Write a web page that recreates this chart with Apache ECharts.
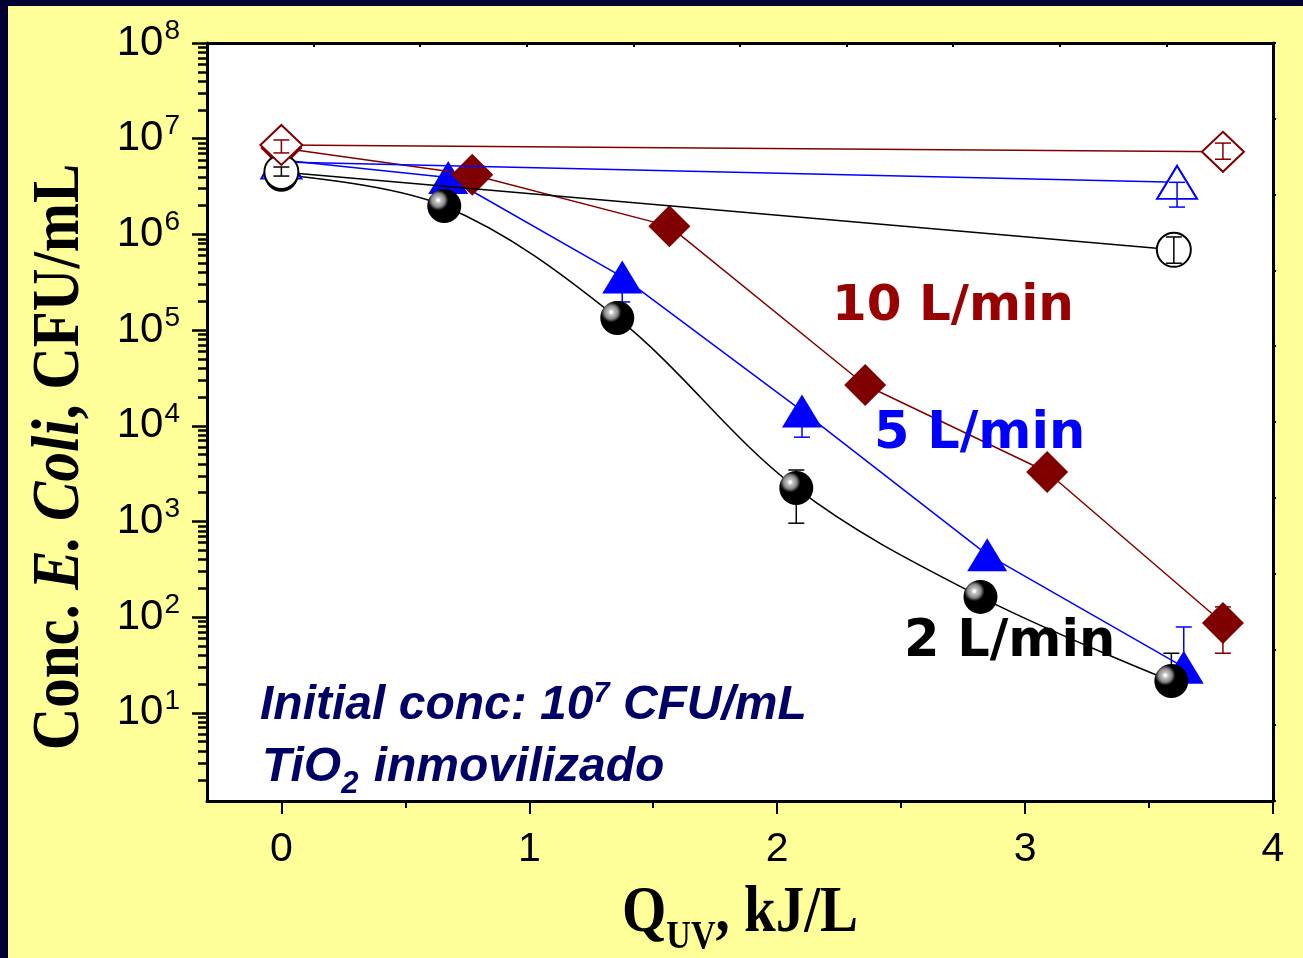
<!DOCTYPE html>
<html lang="en">
<head>
  <meta charset="UTF-8">
  <title>E. Coli inactivation</title>
  <style>
    html, body { margin: 0; padding: 0; }
  </style>
</head>
<body>
  <div id="main" style="width:1303px;height:958px;"></div>
</body>
<script src="https://cdn.jsdelivr.net/npm/echarts@6/dist/echarts.min.js"></script>
<script>
  // Q_UV (kJ/L) and concentration (CFU/mL), UV + TiO2 (filled markers)
  var qFilled2 = [0, 0.657, 1.355, 2.077, 2.82, 3.59];
  var cFilled2 = [4.2e6, 1.98e6, 1.34e5, 2240, 163, 21.5];
  var qFilled5 = [0, 0.673, 1.375, 2.10, 2.847, 3.64];
  var cFilled5 = [6.0e6, 3.93e6, 3.59e5, 1.43e4, 450, 30];
  var qFilled10 = [0, 0.770, 1.565, 2.355, 3.089, 3.798];
  var cFilled10 = [8.0e6, 4.2e6, 1.22e6, 2.67e4, 3290, 87];

  // open markers (no catalyst)
  var qOpen2 = [0, 3.6];
  var cOpen2 = [4.5e6, 6.9e5];
  var qOpen5 = [0, 3.613];
  var cOpen5 = [5.7e6, 3.5e6];
  var qOpen10 = [0, 3.798];
  var cOpen10 = [8.6e6, 7.3e6];

  // error bars: [x, low, high]
  var errFilled2 = [[2.077, 960, 3450], [3.59, 21.5, 42]];
  var errFilled5 = [[1.375, 1.97e5, 3.59e5], [2.10, 7600, 1.43e4], [3.64, 30, 79]];
  var errFilled10 = [[3.798, 42, 128]];
  var errOpen2 = [[0, 4.07e6, 5.06e6], [3.6, 5.0e5, 9.4e5]];
  var errOpen5 = [[3.613, 1.93e6, 3.5e6]];
  var errOpen10 = [[0, 7.1e6, 9.7e6], [3.798, 6.1e6, 9.0e6]];

  // axis ticks
  var xMajor = [0, 1, 2, 3, 4];
  var xMinor = [0.5, 1.5, 2.5, 3.5];
  var yMajor = [10, 100, 1e3, 1e4, 1e5, 1e6, 1e7, 1e8];
  var yMinor = [];
  for (var e = 0; e < 8; e++) {
    for (var k = 2; k < 10; k++) {
      if (k * Math.pow(10, e) > 1.2) yMinor.push(k * Math.pow(10, e));
    }
  }

  var myChart = echarts.init(document.getElementById('main'));

  function pairs(xs, ys) {
    return xs.map(function (x, i) { return [x, ys[i]]; });
  }

  var sphere = {
    type: 'radial', x: 0.32, y: 0.33, r: 0.75,
    colorStops: [
      { offset: 0, color: '#ffffff' },
      { offset: 0.06, color: '#f4f4f4' },
      { offset: 0.1, color: '#c8c8c8' },
      { offset: 0.26, color: '#8a8a8a' },
      { offset: 0.34, color: '#3a3a3a' },
      { offset: 0.4, color: '#000000' },
      { offset: 1, color: '#000000' }
    ]
  };

  function errSeries(data, color, z) {
    return {
      type: 'custom',
      z: z,
      data: data,
      encode: { x: 0, y: [1, 2] },
      renderItem: function (params, api) {
        var x = api.value(0);
        var lo = api.coord([x, api.value(1)]);
        var hi = api.coord([x, api.value(2)]);
        var w = 8;
        var st = { stroke: color, lineWidth: 1.5, fill: null };
        return {
          type: 'group',
          children: [
            { type: 'line', shape: { x1: lo[0], y1: lo[1], x2: hi[0], y2: hi[1] }, style: st },
            { type: 'line', shape: { x1: lo[0] - w, y1: lo[1], x2: lo[0] + w, y2: lo[1] }, style: st },
            { type: 'line', shape: { x1: hi[0] - w, y1: hi[1], x2: hi[0] + w, y2: hi[1] }, style: st }
          ]
        };
      }
    };
  }

  function lineSeries(xs, ys, opts) {
    return {
      type: 'line',
      z: opts.z,
      data: pairs(xs, ys),
      smooth: opts.smooth || false,
      symbol: opts.symbol,
      symbolSize: opts.size,
      showSymbol: true,
      lineStyle: { color: opts.line, width: 1.5 },
      itemStyle: opts.item,
      emphasis: { disabled: true },
      animation: false
    };
  }

  var blue = '#0000ff';
  var red = '#800000';

  myChart.setOption({
    backgroundColor: '#ffff99',
    animation: false,
    grid: {
      left: 207, right: 30, top: 43, bottom: 157,
      show: true, backgroundColor: '#ffffff', borderWidth: 0
    },
    xAxis: [{
      type: 'value', min: -0.3, max: 4,
      axisLine: { onZero: false, lineStyle: { color: '#000', width: 3 } },
      axisTick: { customValues: xMajor, length: 13, lineStyle: { color: '#000', width: 2 } },
      axisLabel: {
        customValues: xMajor, margin: 28, color: '#000',
        fontSize: 41, fontFamily: 'Liberation Sans'
      },
      splitLine: { show: false }
    }, {
      type: 'value', min: -0.3, max: 4, position: 'bottom',
      axisLine: { show: false, onZero: false },
      axisTick: { customValues: xMinor, length: 7, lineStyle: { color: '#000', width: 2 } },
      axisLabel: { show: false },
      splitLine: { show: false }
    }, {
      type: 'value', min: 0, max: 10, interval: 1, position: 'top',
      axisLine: { onZero: false, lineStyle: { color: '#000', width: 3 } },
      axisTick: { inside: true, length: 4, lineStyle: { color: '#000', width: 2 } },
      axisLabel: { show: false },
      splitLine: { show: false }
    }],
    yAxis: [{
      type: 'log', logBase: 10, min: 1.2, max: 1e8,
      axisLine: { onZero: false, lineStyle: { color: '#000', width: 3 } },
      axisTick: { customValues: yMajor, length: 15, lineStyle: { color: '#000', width: 2.5 } },
      axisLabel: {
        customValues: yMajor, margin: 27, color: '#000',
        formatter: function (v) {
          var ex = Math.round(Math.log(v) / Math.LN10);
          return '{b|10}{s|' + ex + '}';
        },
        rich: {
          b: { fontSize: 42, fontFamily: 'Liberation Sans', color: '#000' },
          s: { fontSize: 28, fontFamily: 'Liberation Sans', color: '#000', padding: [0, 0, 24, 1] }
        }
      },
      splitLine: { show: false }
    }, {
      type: 'log', logBase: 10, min: 1.2, max: 1e8, position: 'left',
      axisLine: { show: false, onZero: false },
      axisTick: { customValues: yMinor, length: 9, lineStyle: { color: '#000', width: 2.5 } },
      axisLabel: { show: false },
      splitLine: { show: false }
    }, {
      type: 'value', min: 0, max: 10, interval: 1, position: 'right',
      axisLine: { onZero: false, lineStyle: { color: '#000', width: 3 } },
      axisTick: { length: 3, lineStyle: { color: '#000', width: 2 } },
      axisLabel: { show: false },
      splitLine: { show: false }
    }],
    series: [
      errSeries(errFilled5, blue, 2),
      errSeries(errFilled2, '#000', 2),
      errSeries(errFilled10, red, 2),
      lineSeries(qFilled5, cFilled5, {
        z: 3, symbol: 'triangle', size: [40, 33], line: blue,
        item: { color: blue }
      }),
      lineSeries(qFilled2, cFilled2, {
        z: 4, symbol: 'circle', size: 34, line: '#000', smooth: 0.35,
        item: { color: sphere }
      }),
      lineSeries(qFilled10, cFilled10, {
        z: 5, symbol: 'diamond', size: [42, 42], line: red,
        item: { color: red }
      }),
      lineSeries(qOpen5, cOpen5, {
        z: 6, symbol: 'triangle', size: [40, 33], line: blue,
        item: { color: '#fff', borderColor: blue, borderWidth: 2 }
      }),
      lineSeries(qOpen2, cOpen2, {
        z: 6, symbol: 'circle', size: 34, line: '#000',
        item: { color: '#fff', borderColor: '#000', borderWidth: 2 }
      }),
      lineSeries(qOpen10, cOpen10, {
        z: 6, symbol: 'diamond', size: [42, 40], line: red,
        item: { color: '#fff', borderColor: red, borderWidth: 2 }
      }),
      errSeries(errOpen5, blue, 7),
      errSeries(errOpen2, '#000', 7),
      errSeries(errOpen10, red, 7)
    ],
    graphic: [
      { type: 'rect', left: 0, top: 0, shape: { width: 8, height: 958 }, style: { fill: '#000033' } },
      { type: 'rect', left: 0, top: 0, shape: { width: 1303, height: 6 }, style: { fill: '#000033' } },
      {
        type: 'text', x: 60, y: 457, rotation: Math.PI / 2, scaleY: 1.15, z: 100,
        style: {
          text: '{n|Conc. }{i|E. Coli}{n|, CFU/mL}',
          align: 'center', verticalAlign: 'middle',
          rich: {
            n: { font: 'bold 59px "Liberation Serif"', fill: '#000' },
            i: { font: 'italic bold 59px "Liberation Serif"', fill: '#000' }
          }
        }
      },
      {
        type: 'text', x: 740, y: 914, scaleY: 1.15, z: 100,
        style: {
          text: '{n|Q}{u|UV}{n|, kJ/L}',
          align: 'center', verticalAlign: 'middle',
          rich: {
            n: { font: 'bold 57px "Liberation Serif"', fill: '#000' },
            u: { font: 'bold 34px "Liberation Serif"', fill: '#000', padding: [42, 0, 0, 0] }
          }
        }
      },
      {
        type: 'text', x: 832, y: 307, z: 100,
        style: { text: '10 L/min', font: 'bold 50px "DejaVu Sans"', fill: '#990000', verticalAlign: 'middle' }
      },
      {
        type: 'text', x: 874, y: 435, z: 100,
        style: { text: '5 L/min', font: 'bold 51px "DejaVu Sans"', fill: '#0000ff', verticalAlign: 'middle' }
      },
      {
        type: 'text', x: 904, y: 643, z: 100,
        style: { text: '2 L/min', font: 'bold 51px "DejaVu Sans"', fill: '#000000', verticalAlign: 'middle' }
      },
      {
        type: 'text', x: 260, y: 706, z: 100,
        style: {
          text: '{n|Initial conc: 10}{s|7}{n| CFU/mL}',
          verticalAlign: 'middle',
          rich: {
            n: { font: 'italic bold 48px "Liberation Sans"', fill: '#000066' },
            s: { font: 'italic bold 29px "Liberation Sans"', fill: '#000066', padding: [0, 0, 24, 0] }
          }
        }
      },
      {
        type: 'text', x: 262, y: 768, z: 100,
        style: {
          text: '{n|TiO}{u|2}{n| inmovilizado}',
          verticalAlign: 'middle',
          rich: {
            n: { font: 'italic bold 48px "Liberation Sans"', fill: '#000066' },
            u: { font: 'italic bold 31px "Liberation Sans"', fill: '#000066', padding: [32, 2, 0, 0] }
          }
        }
      }
    ]
  });
</script>
</html>
